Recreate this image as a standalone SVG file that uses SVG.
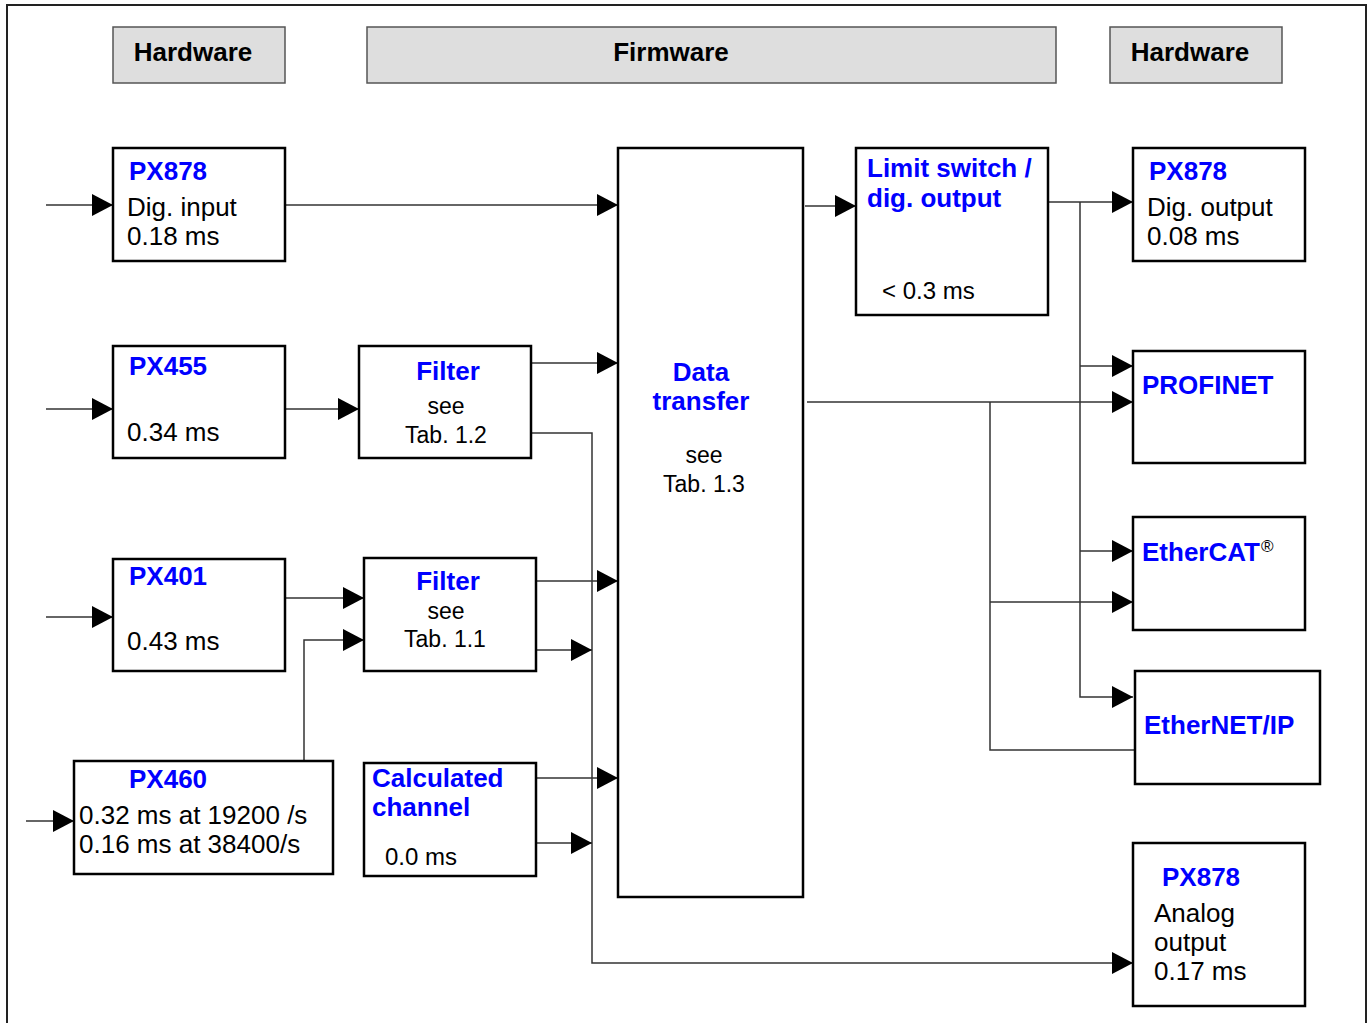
<svg xmlns="http://www.w3.org/2000/svg" width="1372" height="1023" viewBox="0 0 1372 1023">
<style>
text{font-family:"Liberation Sans",Arial,sans-serif;font-size:26px;fill:#000}
.t{font-weight:bold;fill:#0000ff}
.h{font-weight:bold;fill:#000;text-anchor:middle}
.s{font-size:23px}
.m{text-anchor:middle}
.box{fill:#fff;stroke:#000;stroke-width:2.5}
.hdr{fill:#dedede;stroke:#555;stroke-width:1.5}
.c{fill:none;stroke:#333;stroke-width:1.5}
</style>
<defs>
<marker id="ar" markerUnits="userSpaceOnUse" markerWidth="22" markerHeight="22" refX="21" refY="11" orient="auto" viewBox="0 0 22 22">
<path d="M0,0 L21,11 L0,22 Z" fill="#000"/>
</marker>
</defs>
<rect x="0" y="0" width="1372" height="1023" fill="#fff"/>
<rect x="7" y="5" width="1359" height="1040" fill="none" stroke="#222" stroke-width="2"/>

<g id="hdr-hw-left"><rect class="hdr" x="113" y="27" width="172" height="56"/><text class="h" x="193" y="61">Hardware</text></g>
<g id="hdr-fw"><rect class="hdr" x="367" y="27" width="689" height="56"/><text class="h" x="671" y="61">Firmware</text></g>
<g id="hdr-hw-right"><rect class="hdr" x="1110" y="27" width="172" height="56"/><text class="h" x="1190" y="61">Hardware</text></g>

<g id="connectors">
<path class="c" d="M46,205 H113" marker-end="url(#ar)"/>
<path class="c" d="M285,205 H618" marker-end="url(#ar)"/>
<path class="c" d="M46,409 H113" marker-end="url(#ar)"/>
<path class="c" d="M285,409 H359" marker-end="url(#ar)"/>
<path class="c" d="M531,363 H618" marker-end="url(#ar)"/>
<path class="c" d="M531,433 H592 V963 H1133" marker-end="url(#ar)"/>
<path class="c" d="M46,617 H113" marker-end="url(#ar)"/>
<path class="c" d="M285,598 H364" marker-end="url(#ar)"/>
<path class="c" d="M304,761 V640 H364" marker-end="url(#ar)"/>
<path class="c" d="M536,581 H618" marker-end="url(#ar)"/>
<path class="c" d="M536,650 H592" marker-end="url(#ar)"/>
<path class="c" d="M26,821 H74" marker-end="url(#ar)"/>
<path class="c" d="M536,778 H618" marker-end="url(#ar)"/>
<path class="c" d="M536,843 H592" marker-end="url(#ar)"/>
<path class="c" d="M805,206 H856" marker-end="url(#ar)"/>
<path class="c" d="M1048,202 H1133" marker-end="url(#ar)"/>
<path class="c" d="M1080,202 V697 H1133" marker-end="url(#ar)"/>
<path class="c" d="M1080,366 H1133" marker-end="url(#ar)"/>
<path class="c" d="M1080,551 H1133" marker-end="url(#ar)"/>
<path class="c" d="M807,402 H1133" marker-end="url(#ar)"/>
<path class="c" d="M990,402 V750 H1135"/>
<path class="c" d="M990,602 H1133" marker-end="url(#ar)"/>
</g>

<g id="px878-din"><rect class="box" x="113" y="148" width="172" height="113"/>
<text class="t" x="129" y="180">PX878</text><text x="127" y="216">Dig. input</text><text x="127" y="245">0.18 ms</text></g>

<g id="px455"><rect class="box" x="113" y="346" width="172" height="112"/>
<text class="t" x="129" y="375">PX455</text><text x="127" y="441">0.34 ms</text></g>

<g id="filter12"><rect class="box" x="359" y="346" width="172" height="112"/>
<text class="t m" x="448" y="380">Filter</text><text class="s m" x="446" y="414">see</text><text class="s m" x="446" y="443">Tab. 1.2</text></g>

<g id="px401"><rect class="box" x="113" y="559" width="172" height="112"/>
<text class="t" x="129" y="585">PX401</text><text x="127" y="650">0.43 ms</text></g>

<g id="filter11"><rect class="box" x="364" y="558" width="172" height="113"/>
<text class="t m" x="448" y="590">Filter</text><text class="s m" x="446" y="619">see</text><text class="s m" x="445" y="647">Tab. 1.1</text></g>

<g id="px460"><rect class="box" x="74" y="761" width="259" height="113"/>
<text class="t" x="129" y="788">PX460</text><text x="79" y="824">0.32 ms at 19200 /s</text><text x="79" y="853">0.16 ms at 38400/s</text></g>

<g id="calc"><rect class="box" x="364" y="763" width="172" height="113"/>
<text class="t" x="372" y="787">Calculated</text><text class="t" x="372" y="816">channel</text><text x="385" y="865" style="font-size:24px">0.0 ms</text></g>

<g id="data-transfer"><rect class="box" x="618" y="148" width="185" height="749"/>
<text class="t m" x="701" y="381">Data</text><text class="t m" x="701" y="410">transfer</text>
<text class="s m" x="704" y="463">see</text><text class="s m" x="704" y="492">Tab. 1.3</text></g>

<g id="limit-switch"><rect class="box" x="856" y="148" width="192" height="167"/>
<text class="t" x="867" y="177">Limit switch /</text><text class="t" x="867" y="207">dig. output</text>
<text x="882" y="299" style="font-size:24px">&lt; 0.3 ms</text></g>

<g id="px878-dout"><rect class="box" x="1133" y="148" width="172" height="113"/>
<text class="t" x="1149" y="180">PX878</text><text x="1147" y="216">Dig. output</text><text x="1147" y="245">0.08 ms</text></g>

<g id="profinet"><rect class="box" x="1133" y="351" width="172" height="112"/>
<text class="t" x="1142" y="394">PROFINET</text></g>

<g id="ethercat"><rect class="box" x="1133" y="517" width="172" height="113"/>
<text class="t" x="1142" y="561">EtherCAT</text><text x="1261" y="552" style="font-size:17px">®</text></g>

<g id="ethernetip"><rect class="box" x="1135" y="671" width="185" height="113"/>
<text class="t" x="1144" y="734">EtherNET/IP</text></g>

<g id="px878-aout"><rect class="box" x="1133" y="843" width="172" height="163"/>
<text class="t" x="1162" y="886">PX878</text><text x="1154" y="922">Analog</text><text x="1154" y="951">output</text><text x="1154" y="980">0.17 ms</text></g>
</svg>
